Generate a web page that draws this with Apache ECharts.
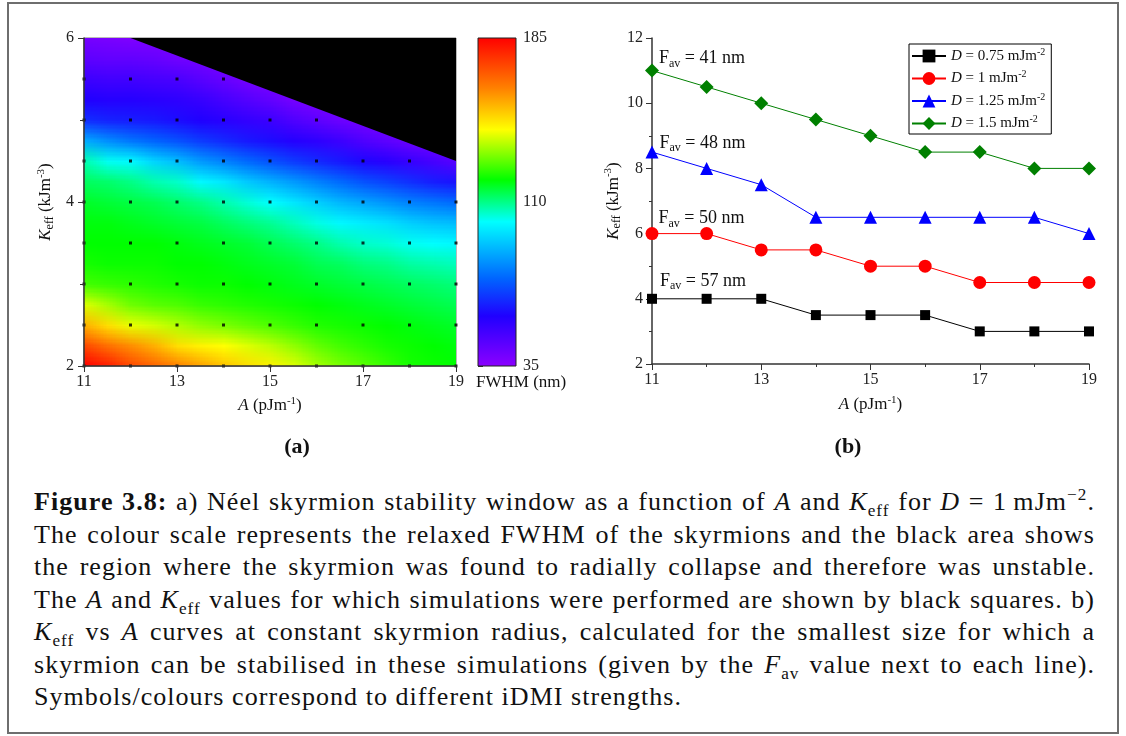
<!DOCTYPE html>
<html>
<head>
<meta charset="utf-8">
<script src="https://cdn.jsdelivr.net/npm/echarts@6/dist/echarts.min.js"></script>
<style>
    html, body { margin: 0; padding: 0; background: #fff; }
    #frame {
        position: absolute; left: 7px; top: 2px; width: 1112px; height: 732px;
        border: 2px solid #6e6e6e; box-sizing: border-box;
    }
    #chart { position: absolute; left: 0; top: 0; width: 1126px; height: 470px; }
    #caption {
        position: absolute; left: 34px; top: 486px; width: 1061px;
        font-family: "Liberation Serif", serif; font-size: 26px; letter-spacing: 1.05px;
        line-height: 32.5px; color: #111;
    }
    #caption div { text-align: justify; text-align-last: justify; white-space: nowrap; }
    #caption div.last { text-align-last: left; }
    #caption i { font-style: italic; }
    #caption sub, #caption sup { font-size: 0.66em; line-height: 0; }
</style>
</head>
<body>
<div id="frame"></div>
<div id="chart"></div>
<div id="caption">
    <div><b>Figure 3.8:</b> a) Néel skyrmion stability window as a function of <i>A</i> and <i>K</i><sub>eff</sub> for <i>D</i> = 1&#8201;mJm<sup>−2</sup>.</div>
    <div>The colour scale represents the relaxed FWHM of the skyrmions and the black area shows</div>
    <div>the region where the skyrmion was found to radially collapse and therefore was unstable.</div>
    <div>The <i>A</i> and <i>K</i><sub>eff</sub> values for which simulations were performed are shown by black squares. b)</div>
    <div><i>K</i><sub>eff</sub> vs <i>A</i> curves at constant skyrmion radius, calculated for the smallest size for which a</div>
    <div>skyrmion can be stabilised in these simulations (given by the <i>F</i><sub>av</sub> value next to each line).</div>
    <div class="last">Symbols/colours correspond to different iDMI strengths.</div>
</div>
<script>
    const SERIF = '"Liberation Serif", "Times New Roman", serif';

    // ---- panel (a): FWHM map ----
    const fwhmA = [11, 11.5, 12, 12.5, 13, 13.5, 14, 14.5, 15, 15.5, 16, 16.5, 17, 17.5, 18, 18.5, 19];
    const fwhmK = [2, 2.25, 2.5, 2.75, 3, 3.25, 3.5, 3.75, 4, 4.25, 4.5, 4.75, 5, 5.25, 5.5, 5.75, 6];
    const fwhm = [
        [186, 172, 155, 140, 126, 122, 120, 119, 117, 113, 107, 87, 66, 58, 52, 45, 40],
        [180, 165, 148, 135, 125, 121, 120, 119, 116, 112, 102, 82, 64, 57, 51, 44, 39],
        [172, 160, 141, 130, 124, 121, 120, 118, 115, 110, 100, 78, 63, 57, 51, 44, 38],
        [167, 155, 139, 128, 123, 121, 120, 117, 114, 107, 94, 75, 62, 56, 50, 43, 38],
        [162, 148, 136, 127, 122, 120, 119, 116, 112, 105, 90, 72, 60, 55, 49, 41, 38],
        [157, 145, 133, 125, 121, 120, 118, 115, 110, 100, 84, 68, 58, 53, 46, 40, 38],
        [152, 143, 131, 124, 121, 119, 117, 113, 107, 97, 80, 65, 56, 50, 43, 38, 38],
        [148, 140, 129, 123, 120, 118, 116, 111, 104, 92, 76, 62, 54, 47, 40, 38, 38],
        [145, 137, 127, 122, 119, 117, 114, 109, 101, 88, 72, 60, 52, 44, 38, 38, 38],
        [140, 133, 125, 121, 118, 116, 112, 106, 97, 84, 68, 57, 48, 40, 38, 38, 38],
        [135, 129, 123, 120, 117, 114, 110, 103, 93, 80, 65, 55, 45, 38, 38, 38, 38],
        [131, 126, 122, 119, 116, 113, 107, 100, 89, 76, 62, 52, 42, 38, 38, 38, 38],
        [128, 124, 121, 118, 115, 111, 105, 98, 86, 72, 59, 48, 40, 38, 38, 38, 38],
        [125, 122, 120, 117, 114, 110, 104, 96, 83, 69, 56, 45, 38, 38, 38, 38, 38],
        [122, 121, 119, 116, 113, 108, 102, 93, 80, 66, 53, 42, 38, 38, 38, 38, 38],
        [121, 120, 118, 115, 112, 107, 101, 91, 78, 63, 50, 40, 38, 38, 38, 38, 38],
        [120, 119, 117, 114, 111, 106, 100, 90, 76, 61, 46, 40, 38, 38, 38, 38, 38]
    ];
    // unstable (collapsed) region, black
    const unstableA = [12, 19, 19];
    const unstableK = [6, 4.5, 6];
    // simulated points: K rows and the last stable A in each row
    const simK = [2, 2.5, 3, 3.5, 4, 4.5, 5, 5.5];
    const simAmax = [19, 19, 19, 19, 19, 18, 16, 14];
    // colour scale
    const paletteV = [35, 58, 75, 101, 120, 143, 162, 185];
    const paletteC = [[140, 0, 255], [32, 0, 255], [0, 100, 255], [0, 255, 255],
        [0, 255, 0], [255, 255, 0], [255, 128, 0], [255, 0, 0]];
    const scaleTicks = [35, 110, 185];

    // ---- panel (b): Keff vs A ----
    const lineA = [11, 12, 13, 14, 15, 16, 17, 18, 19];
    const k075 = [4, 4, 4, 3.5, 3.5, 3.5, 3, 3, 3];
    const k100 = [6, 6, 5.5, 5.5, 5, 5, 4.5, 4.5, 4.5];
    const k125 = [8.5, 8, 7.5, 6.5, 6.5, 6.5, 6.5, 6.5, 6];
    const k150 = [11, 10.5, 10, 9.5, 9, 8.5, 8.5, 8, 8];
    const lineNames = ['D = 0.75 mJm-2', 'D = 1 mJm-2', 'D = 1.25 mJm-2', 'D = 1.5 mJm-2'];
    const favNm = [57, 50, 48, 41];

    function colourOf(v) {
        v = Math.max(paletteV[0], Math.min(paletteV[paletteV.length - 1], v));
        for (let i = 1; i < paletteV.length; i++) {
            if (v <= paletteV[i]) {
                const t = (v - paletteV[i - 1]) / (paletteV[i] - paletteV[i - 1]);
                const c = paletteC[i - 1].map((c0, j) => Math.round(c0 + t * (paletteC[i][j] - c0)));
                return 'rgb(' + c.join(',') + ')';
            }
        }
        return 'rgb(255,0,0)';
    }

    // one pixel per cell, the browser smooths it when it is scaled onto the grid
    const cellCanvas = document.createElement('canvas');
    cellCanvas.width = fwhmA.length;
    cellCanvas.height = fwhmK.length;
    const cellCtx = cellCanvas.getContext('2d');
    fwhm.forEach((col, i) => col.forEach((v, j) => {
        cellCtx.fillStyle = colourOf(v);
        cellCtx.fillRect(i, fwhmK.length - 1 - j, 1, 1);
    }));

    const richText = {
        i: { fontFamily: SERIF, fontStyle: 'italic', fontSize: 17, lineHeight: 20, color: '#111' },
        sub: { fontFamily: SERIF, fontSize: 12, lineHeight: 12, verticalAlign: 'bottom', color: '#111' },
        sup: { fontFamily: SERIF, fontSize: 11, lineHeight: 11, verticalAlign: 'top', color: '#111' }
    };
    const nameStyle = { fontFamily: SERIF, fontSize: 17, lineHeight: 20, color: '#111', rich: richText };
    const axisLineStyle = { lineStyle: { color: '#333', width: 1.5 } };
    const labelStyle = { fontFamily: SERIF, fontSize: 16, color: '#222' };

    const simPoints = [];
    simK.forEach((k, r) => {
        for (let a = 11; a <= simAmax[r]; a++) simPoints.push([a, k]);
    });

    const markers = [
        { sym: 'rect', size: 10, color: '#000000', data: k075 },
        { sym: 'circle', size: 13, color: '#ff0000', data: k100 },
        { sym: 'triangle', size: 13, color: '#0000ff', data: k125 },
        { sym: 'diamond', size: 14, color: '#008000', data: k150 }
    ];
    const favOffsets = [[3, -18], [0, -15], [1, -9], [0, -12]];

    const lineSeries = markers.map((m, s) => ({
        name: lineNames[s],
        type: 'line',
        xAxisIndex: 2,
        yAxisIndex: 2,
        symbol: m.sym,
        symbolSize: m.size,
        itemStyle: { color: m.color },
        lineStyle: { color: m.color, width: 1 },
        z: 3 + s,
        data: lineA.map((a, i) => i === 0 ? {
            value: [a, m.data[i]],
            label: {
                show: true, position: 'right', distance: 0, offset: favOffsets[s],
                formatter: 'F{sub|av} = ' + favNm[s] + ' nm',
                fontFamily: SERIF, fontSize: 18, lineHeight: 22, color: '#111',
                rich: { sub: { fontFamily: SERIF, fontSize: 12, lineHeight: 12, verticalAlign: 'bottom', color: '#111' } }
            }
        } : [a, m.data[i]])
    }));

    const chart = echarts.init(document.getElementById('chart'));
    chart.setOption({
        animation: false,
        grid: [
            { left: 84, top: 38, width: 372, height: 328, show: true, borderColor: '#777', borderWidth: 1, backgroundColor: 'transparent' },
            { left: 478, top: 38, width: 38, height: 328 },
            { left: 652, top: 38, width: 437, height: 326 }
        ],
        xAxis: [
            {
                gridIndex: 0, type: 'value', min: 11, max: 19, interval: 2, z: 10,
                axisLine: axisLineStyle, axisTick: { length: 6, lineStyle: { color: '#333' } },
                axisLabel: Object.assign({ margin: 8 }, labelStyle), splitLine: { show: false },
                name: '{i|A} (pJm{sup|-1})', nameLocation: 'middle', nameGap: 30, nameTextStyle: nameStyle
            },
            { gridIndex: 1, type: 'value', min: 0, max: 1, show: false },
            {
                gridIndex: 2, type: 'value', min: 11, max: 19, interval: 2,
                axisLine: axisLineStyle, axisTick: { length: 6, lineStyle: { color: '#333' } },
                minorTick: { show: true, splitNumber: 2, length: 3, lineStyle: { color: '#333' } },
                axisLabel: Object.assign({ margin: 8 }, labelStyle), splitLine: { show: false },
                name: '{i|A} (pJm{sup|-1})', nameLocation: 'middle', nameGap: 31, nameTextStyle: nameStyle
            }
        ],
        yAxis: [
            {
                gridIndex: 0, type: 'value', min: 2, max: 6, interval: 2, z: 10,
                axisLine: axisLineStyle, axisTick: { length: 6, lineStyle: { color: '#333' } },
                minorTick: { show: true, splitNumber: 2, length: 4, lineStyle: { color: '#333' } },
                axisLabel: Object.assign({ margin: 10 }, labelStyle), splitLine: { show: false },
                name: '{i|K}{sub|eff} (kJm{sup|-3})', nameLocation: 'middle', nameRotate: 90, nameGap: 28,
                nameTextStyle: nameStyle
            },
            {
                gridIndex: 1, type: 'value', min: 35, max: 185, position: 'right',
                axisLine: { show: false },
                axisTick: { length: 5, lineStyle: { color: '#333' }, customValues: scaleTicks },
                axisLabel: Object.assign({ margin: 7, customValues: scaleTicks }, labelStyle),
                splitLine: { show: false }
            },
            {
                gridIndex: 2, type: 'value', min: 2, max: 12, interval: 2,
                axisLine: axisLineStyle, axisTick: { length: 6, lineStyle: { color: '#333' } },
                minorTick: { show: true, splitNumber: 2, length: 3, lineStyle: { color: '#333' } },
                axisLabel: Object.assign({ margin: 9 }, labelStyle), splitLine: { show: false },
                name: '{i|K}{sub|eff} (kJm{sup|-3})', nameLocation: 'middle', nameRotate: 90, nameGap: 26,
                nameTextStyle: nameStyle
            }
        ],
        legend: {
            data: lineNames,
            orient: 'vertical',
            left: 909, top: 44,
            itemWidth: 34, itemHeight: 16, itemGap: 6,
            padding: [3, 6, 3, 2],
            borderColor: '#000', borderWidth: 1,
            selectedMode: false,
            textStyle: { fontFamily: SERIF, fontSize: 15, color: '#111', rich: {
                i: { fontFamily: SERIF, fontStyle: 'italic', fontSize: 15, lineHeight: 18, color: '#111' },
                n: { fontFamily: SERIF, fontSize: 15, lineHeight: 18, color: '#111' },
                sup: { fontFamily: SERIF, fontSize: 10, lineHeight: 10, verticalAlign: 'top', color: '#111' }
            } },
            formatter: name => '{i|D}{n|' + name.slice(1).replace(' mJm-2', ' mJm') + '}{sup|-2}'
        },
        graphic: [
            { type: 'text', left: 476, top: 374, style: { text: 'FWHM (nm)', font: '17px ' + SERIF, fill: '#111' } },
            { type: 'text', x: 297, y: 447, style: { text: '(a)', font: 'bold 22px ' + SERIF, fill: '#111', textAlign: 'center', textVerticalAlign: 'middle' } },
            { type: 'text', x: 848, y: 447, style: { text: '(b)', font: 'bold 22px ' + SERIF, fill: '#111', textAlign: 'center', textVerticalAlign: 'middle' } }
        ],
        series: [
            {
                // FWHM map: cell image placed on the A/K axes, cell centres on the data points
                type: 'custom', xAxisIndex: 0, yAxisIndex: 0, z: 1,
                data: [[fwhmA[0], fwhmK[0], fwhmA[fwhmA.length - 1], fwhmK[fwhmK.length - 1]]],
                renderItem: (params, api) => {
                    const p0 = api.coord([api.value(0), api.value(3)]);
                    const p1 = api.coord([api.value(2), api.value(1)]);
                    return {
                        type: 'image',
                        style: {
                            image: cellCanvas,
                            x: p0[0], y: p0[1], width: p1[0] - p0[0], height: p1[1] - p0[1],
                            sx: 0.5, sy: 0.5, sWidth: fwhmA.length - 1, sHeight: fwhmK.length - 1
                        }
                    };
                }
            },
            {
                type: 'custom', xAxisIndex: 0, yAxisIndex: 0, z: 2,
                data: unstableA.map((a, i) => [a, unstableK[i]]),
                renderItem: (params, api) => {
                    if (params.dataIndex !== 0) return;
                    const pts = unstableA.map((a, i) => api.coord([a, unstableK[i]]));
                    return { type: 'polygon', shape: { points: pts }, style: { fill: '#000' } };
                }
            },
            {
                type: 'scatter', xAxisIndex: 0, yAxisIndex: 0, z: 3,
                symbol: 'rect', symbolSize: 3, itemStyle: { color: '#000' },
                data: simPoints
            },
            {
                // colour bar
                type: 'custom', xAxisIndex: 1, yAxisIndex: 1,
                data: [[0, paletteV[0], paletteV[paletteV.length - 1]]],
                renderItem: (params, api) => {
                    const lo = api.value(1), hi = api.value(2);
                    const p0 = api.coord([0, hi]);
                    const p1 = api.coord([1, lo]);
                    const stops = paletteV.map((v, i) => ({
                        offset: (hi - v) / (hi - lo),
                        color: 'rgb(' + paletteC[i].join(',') + ')'
                    })).reverse();
                    return {
                        type: 'rect',
                        shape: { x: p0[0], y: p0[1], width: p1[0] - p0[0], height: p1[1] - p0[1] },
                        style: { fill: new echarts.graphic.LinearGradient(0, 0, 0, 1, stops), stroke: '#222', lineWidth: 1 }
                    };
                }
            }
        ].concat(lineSeries)
    });
</script>
</body>
</html>
